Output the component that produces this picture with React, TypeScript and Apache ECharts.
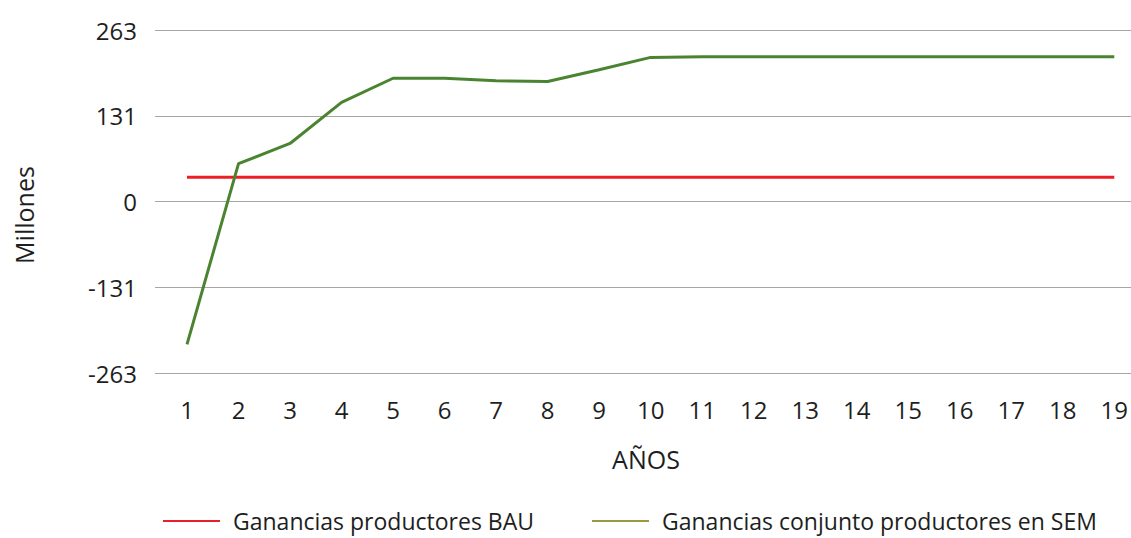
import React, { useEffect, useRef } from "react";
import * as echarts from "echarts";

const years = [1, 2, 3, 4, 5, 6, 7, 8, 9, 10, 11, 12, 13, 14, 15, 16, 17, 18, 19];
const bauValues = [37, 37, 37, 37, 37, 37, 37, 37, 37, 37, 37, 37, 37, 37, 37, 37, 37, 37, 37];
const semValues = [-219, 58, 89, 152, 189, 189, 185, 184, 202, 221, 222, 222, 222, 222, 222, 222, 222, 222, 222];
const yTicks = [-263, -131.5, 0, 131.5, 263];
const seriesNames = ["Ganancias productores BAU", "Ganancias conjunto productores en SEM"];

const FONT = "'Open Sans', 'Noto Sans', sans-serif";
const TEXT = "#1e1e1e";

export default function App() {
  const ref = useRef<HTMLDivElement>(null);
  useEffect(() => {
    if (!ref.current) return;
    const chart = echarts.init(ref.current, null, { renderer: "svg" });
    const yMin = yTicks[0];
    const yMax = yTicks[yTicks.length - 1];
    chart.setOption({
      animation: false,
      backgroundColor: "#ffffff",
      textStyle: { fontFamily: FONT },
      grid: [
        { left: 155, right: 0, top: 30, bottom: 165 },
        { left: 187, right: 15, top: 30, bottom: 165 },
      ],
      xAxis: [
        {
          gridIndex: 0,
          type: "value",
          min: 0,
          max: 1,
          show: false,
        },
        {
          gridIndex: 1,
          type: "value",
          min: years[0],
          max: years[years.length - 1],
          interval: 1,
          axisLine: { show: false },
          axisTick: { show: false },
          splitLine: { show: false },
          axisLabel: {
            margin: 24,
            fontSize: 24,
            color: TEXT,
            fontFamily: FONT,
          },
        },
      ],
      yAxis: [
        {
          gridIndex: 0,
          type: "value",
          min: yMin,
          max: yMax,
          interval: 131.5,
          axisLine: { show: false },
          axisTick: { show: false },
          splitLine: { show: true, lineStyle: { color: "#a8a6a4", width: 1 } },
          axisLabel: {
            margin: 18,
            fontSize: 24,
            color: TEXT,
            fontFamily: FONT,
            formatter: (v: number) => String(Math.trunc(v)),
          },
        },
        {
          gridIndex: 1,
          type: "value",
          min: yMin,
          max: yMax,
          interval: 131.5,
          show: false,
        },
      ],
      legend: {
        left: 163,
        top: 508,
        padding: 0,
        itemGap: 58,
        itemWidth: 57,
        itemHeight: 2,
        icon: "rect",
        textStyle: {
          fontSize: 23,
          lineHeight: 26,
          color: TEXT,
          fontFamily: FONT,
          padding: [0, 0, 0, 8],
        },
        data: [
          { name: seriesNames[0], itemStyle: { color: "#e8202a" } },
          { name: seriesNames[1], itemStyle: { color: "#9a9842" } },
        ],
      },
      graphic: [
        {
          type: "text",
          x: 646,
          y: 459,
          style: {
            text: "AÑOS",
            fontSize: 25,
            fill: TEXT,
            fontFamily: FONT,
            align: "center",
            verticalAlign: "middle",
          },
        },
        {
          type: "text",
          x: 24,
          y: 215,
          rotation: Math.PI / 2,
          style: {
            text: "Millones",
            fontSize: 25,
            fill: TEXT,
            fontFamily: FONT,
            align: "center",
            verticalAlign: "middle",
          },
        },
      ],
      series: [
        {
          name: seriesNames[0],
          type: "line",
          xAxisIndex: 1,
          yAxisIndex: 1,
          data: years.map((y, i) => [y, bauValues[i]]),
          showSymbol: false,
          symbol: "none",
          lineStyle: { color: "#ee1c25", width: 3 },
          itemStyle: { color: "#ee1c25" },
        },
        {
          name: seriesNames[1],
          type: "line",
          xAxisIndex: 1,
          yAxisIndex: 1,
          data: years.map((y, i) => [y, semValues[i]]),
          showSymbol: false,
          symbol: "none",
          lineStyle: { color: "#4a8430", width: 3 },
          itemStyle: { color: "#4a8430" },
        },
      ],
    });
    return () => chart.dispose();
  }, []);
  return (
    <div
      ref={ref}
      style={{ position: "fixed", left: 0, top: 0, width: 1131, height: 538 }}
    />
  );
}
